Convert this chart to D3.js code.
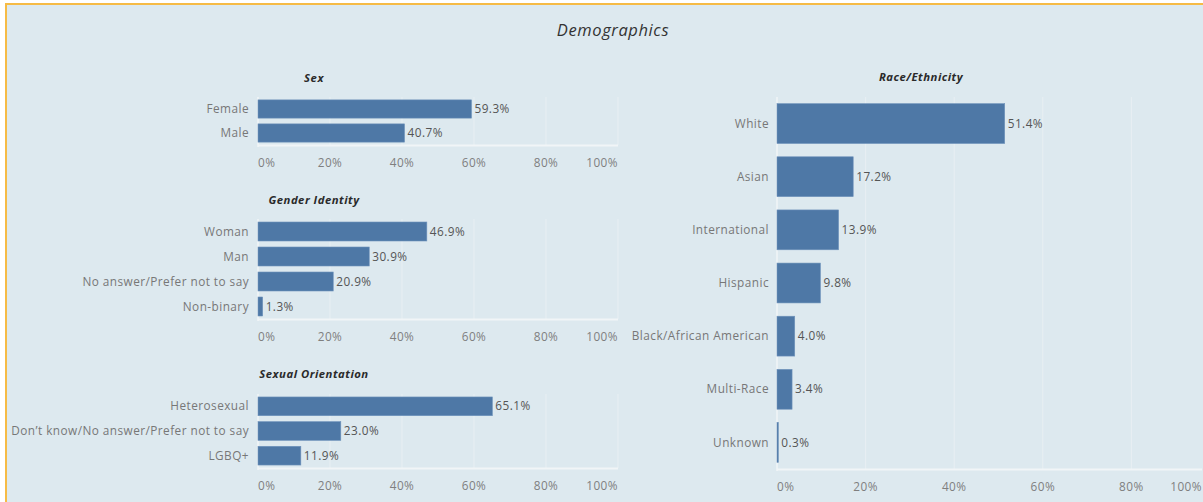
<!DOCTYPE html>
<html>
<head>
<meta charset="utf-8">
<script src="https://cdn.jsdelivr.net/npm/d3@7"></script>
<style>
  html, body { margin: 0; padding: 0; background: #ffffff; }
  svg { display: block; }
  text { font-family: "Open Sans", "DejaVu Sans", sans-serif; }
</style>
</head>
<body>
<svg id="chart" width="1203" height="502"></svg>
<script>
// ---- data ----
const chartTitle = "Demographics";
const sexTitle = "Sex";
const sexCats = ["Female", "Male"];
const sexVals = [59.3, 40.7];

const genderTitle = "Gender Identity";
const genderCats = ["Woman", "Man", "No answer/Prefer not to say", "Non-binary"];
const genderVals = [46.9, 30.9, 20.9, 1.3];

const orientTitle = "Sexual Orientation";
const orientCats = ["Heterosexual", "Don\u2019t know/No answer/Prefer not to say", "LGBQ+"];
const orientVals = [65.1, 23.0, 11.9];

const raceTitle = "Race/Ethnicity";
const raceCats = ["White", "Asian", "International", "Hispanic", "Black/African American", "Multi-Race", "Unknown"];
const raceVals = [51.4, 17.2, 13.9, 9.8, 4.0, 3.4, 0.3];

const tickVals = [0, 20, 40, 60, 80, 100];
const tickLabels = ["0%", "20%", "40%", "60%", "80%", "100%"];

// ---- styles ----
const BG = "#dde9ef";
const BORDER = "#f6bb45";
const BAR = "#4e78a6";
const GRID = "#e8eff3";
const AXIS = "#f1f5f7";
const CAT_COLOR = "#777777";
const VAL_COLOR = "#555555";
const TICK_COLOR = "#7f7f7f";
const FS = 11.8;
const LS = 0.45;

const svg = d3.select("#chart");

// background and border
svg.append("rect").attr("x", 5).attr("y", 4).attr("width", 1198).attr("height", 498).attr("fill", BG);
svg.append("line").attr("x1", 5).attr("x2", 1203).attr("y1", 4).attr("y2", 4)
  .attr("stroke", BORDER).attr("stroke-width", 2);
svg.append("line").attr("x1", 6).attr("x2", 6).attr("y1", 3).attr("y2", 502)
  .attr("stroke", BORDER).attr("stroke-width", 2);

svg.append("text").attr("x", 613).attr("y", 36).attr("text-anchor", "middle")
  .attr("font-size", 16.5).attr("letter-spacing", 0.6).attr("font-style", "italic").attr("fill", "#333")
  .text(chartTitle);

function panel(opts) {
  const { cats, vals, title, titleX, titleY, x0, x1, paneRight, top, bottom, labelGap, padInner, padOuter } = opts;
  const x = d3.scaleLinear().domain([0, 100]).range([x0, x1]);
  const y = d3.scaleBand().domain(cats).range([top, bottom]).paddingInner(padInner).paddingOuter(padOuter);
  const g = svg.append("g");

  // title
  g.append("text").attr("x", titleX).attr("y", titleY).attr("text-anchor", "middle")
    .attr("font-size", 11.3).attr("letter-spacing", 0.5).attr("font-weight", "bold").attr("font-style", "italic").attr("fill", "#2a2a2a")
    .text(title);

  // gridlines
  g.selectAll("line.grid").data(tickVals.filter(t => t > 0 && x(t) <= paneRight)).enter()
    .append("line").attr("class", "grid")
    .attr("x1", d => x(d)).attr("x2", d => x(d)).attr("y1", top).attr("y2", bottom)
    .attr("stroke", GRID).attr("stroke-width", 1);
  // zero line
  g.append("line").attr("x1", x(0)).attr("x2", x(0)).attr("y1", top).attr("y2", bottom + 2)
    .attr("stroke", AXIS).attr("stroke-width", 1.5);
  // axis line
  g.append("line").attr("x1", x(0)).attr("x2", paneRight).attr("y1", bottom + 0.5).attr("y2", bottom + 0.5)
    .attr("stroke", AXIS).attr("stroke-width", 2);

  // tick labels
  g.selectAll("text.tick").data(tickVals).enter().append("text").attr("class", "tick")
    .attr("x", (d, i) => i === tickVals.length - 1 ? Math.min(x(d), paneRight) : x(d))
    .attr("y", bottom + 22)
    .attr("text-anchor", (d, i) => i === 0 ? "start" : (i === tickVals.length - 1 ? "end" : "middle"))
    .attr("font-size", FS).attr("letter-spacing", LS).attr("fill", TICK_COLOR)
    .text((d, i) => tickLabels[i]);

  // bars
  g.selectAll("rect.bar").data(cats).enter().append("rect").attr("class", "bar")
    .attr("x", x(0)).attr("y", d => y(d))
    .attr("width", (d, i) => Math.max(0, x(vals[i]) - x(0)))
    .attr("height", y.bandwidth())
    .attr("fill", BAR).attr("stroke", "#6f93bb").attr("stroke-width", 0.6);

  // category labels
  g.selectAll("text.cat").data(cats).enter().append("text").attr("class", "cat")
    .attr("x", x(0) - labelGap).attr("y", d => y(d) + y.bandwidth() / 2)
    .attr("dy", "0.35em").attr("text-anchor", "end")
    .attr("font-size", FS).attr("letter-spacing", LS).attr("fill", CAT_COLOR)
    .text(d => d);

  // value labels
  g.selectAll("text.val").data(cats).enter().append("text").attr("class", "val")
    .attr("x", (d, i) => x(vals[i]) + 3).attr("y", d => y(d) + y.bandwidth() / 2)
    .attr("dy", "0.35em").attr("font-size", FS).attr("letter-spacing", LS).attr("fill", VAL_COLOR)
    .text((d, i) => vals[i].toFixed(1) + "%");
}

panel({ cats: sexCats, vals: sexVals, title: sexTitle, titleX: 314, titleY: 82,
  x0: 258, x1: 618, paneRight: 618, top: 97, bottom: 145, labelGap: 9, padInner: 0.24, padOuter: 0.12 });
panel({ cats: genderCats, vals: genderVals, title: genderTitle, titleX: 314, titleY: 204,
  x0: 258, x1: 618, paneRight: 618, top: 219, bottom: 319, labelGap: 9, padInner: 0.24, padOuter: 0.12 });
panel({ cats: orientCats, vals: orientVals, title: orientTitle, titleX: 314, titleY: 378,
  x0: 258, x1: 618, paneRight: 618, top: 394, bottom: 468, labelGap: 9, padInner: 0.24, padOuter: 0.12 });
panel({ cats: raceCats, vals: raceVals, title: raceTitle, titleX: 921, titleY: 81,
  x0: 777, x1: 1220, paneRight: 1202, top: 97, bottom: 469, labelGap: 8, padInner: 0.25, padOuter: 0.125 });
</script>
</body>
</html>
